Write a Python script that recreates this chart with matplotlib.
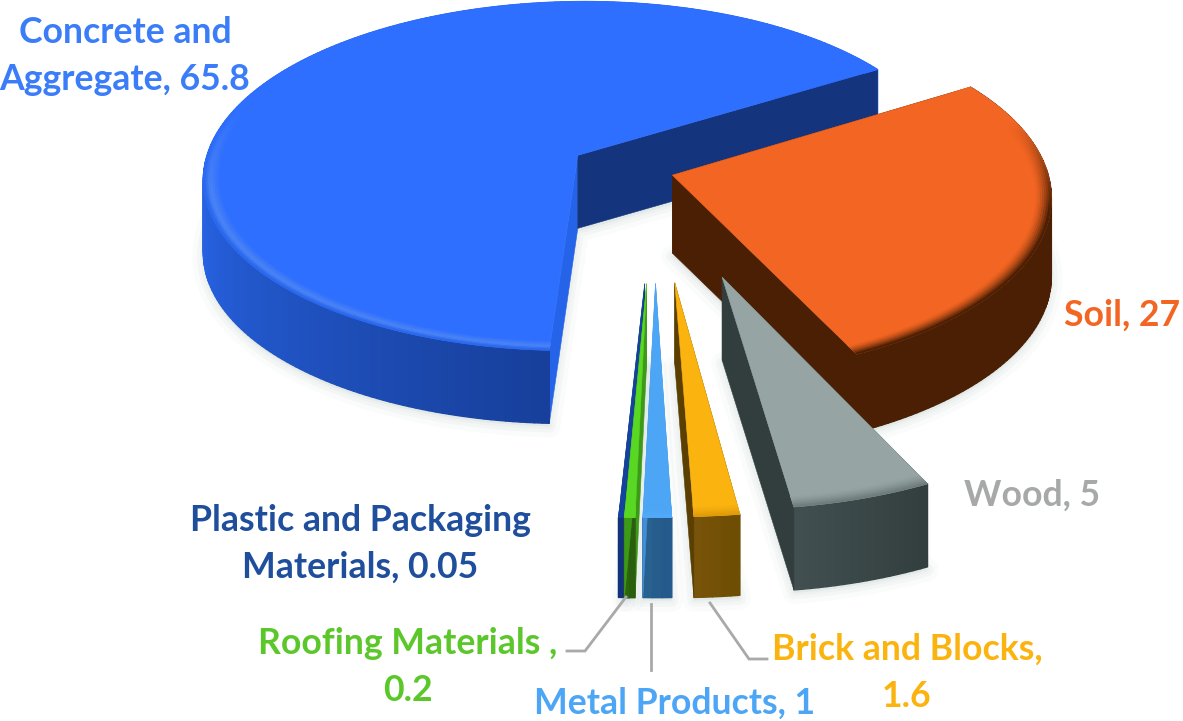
import numpy as np
import matplotlib
matplotlib.use("Agg")
import matplotlib.pyplot as plt
from matplotlib.patches import Polygon
from matplotlib.collections import PolyCollection
from matplotlib.colors import to_rgb

# data, counter-clockwise from the back right
names = ["Concrete and\nAggregate", "Plastic and Packaging\nMaterials", "Roofing Materials ",
         "Metal Products", "Brick and Blocks", "Wood", "Soil"]
values = [65.8, 0.05, 0.2, 1, 1.6, 5, 27]
value_text = ["65.8", "0.05", "0.2", "1", "1.6", "5", "27"]

# style per slice
explode = [0.205, 0.59, 0.59, 0.59, 0.59, 0.59, 0.075]
widen = [0, 0.6, 0.3, 0, 0, 0, 0]
top_col = ["#2f6fff", "#14439c", "#58d822", "#4da6f5", "#fbb40f", "#96a5a3", "#f26522"]
rim_col = ["#4c85f5", "#14439c", "#58d822", "#52aaf8", "#e09c0a", "#6f7d7c", "#4a1f04"]
side_a = ["#2a68ee", "#12337a", "#2e640e", "#28608f", "#77540a", "#424f50", "#4a1f04"]
side_b = ["#173f9a", "#12337a", "#2a5a0c", "#24588a", "#6c4c00", "#323d3e", "#4a1f04"]
cut_start = ["#14357d", "#12337a", "#3c9a18", "#3f8fd8", "#5a3f00", "#323d3e", "#4a1f04"]
cut_end = ["#2563e8", "#12337a", "#3c9a18", "#3f8fd8", "#5a3f00", "#323d3e", "#4a1f04"]
label_col = ["#3b7df8", "#1f4e9c", "#5cc72a", "#4da6f5", "#fbb40f", "#a7a9a9", "#f26522"]
depth = [73, 80, 80, 80, 81, 83, 78]
label_xy = [(125, 56), (360, 544), (408, 667), (675, 703), (907, 673), (1032, 495), (1122, 315)]
line_gap = 47
draw_order = [0, 6, 5, 4, 3, 1, 2]

leaders = [[(567, 651), (585, 651), (626, 597)],
           [(651, 604), (651, 670)],
           [(710, 603), (749, 659), (767, 659)]]

start_angle = 32
twist = 2.5
X0, Y0, RX, RY, K = 645, 172, 375, 176, 0.12


def project(u, v):
    s = 1 / (1 + K * v)
    return X0 + RX * u * s, Y0 - RY * v * s


def mix(a, b, t):
    a, b = np.array(to_rgb(a)), np.array(to_rgb(b))
    return tuple(a + (b - a) * t)


def poly(ax, pts, color, z):
    ax.add_patch(Polygon(pts, closed=True, facecolor=color, edgecolor=color, linewidth=0.4, zorder=z))


fig = plt.figure(figsize=(11.83, 7.21), dpi=100)
ax = fig.add_axes([0, 0, 1, 1])
ax.set_xlim(0, 1183)
ax.set_ylim(721, 0)
ax.axis("off")

sweep = np.array(values) / sum(values) * 360
ends = start_angle + np.cumsum(sweep)
starts = ends - sweep

# soft shadow first
for i in draw_order:
    a = np.radians(np.linspace(starts[i], ends[i], 80))
    mid = np.radians((starts[i] + ends[i]) / 2 + twist)
    cu, cv = explode[i] * np.cos(mid), explode[i] * np.sin(mid)
    x, y = project(cu + np.cos(a), cv + np.sin(a))
    ax_, ay_ = project(cu, cv)
    xs = np.r_[ax_, x]
    ys = np.r_[ay_, y] + depth[i]
    for lw, al in [(16, 0.10), (9, 0.15), (4, 0.2)]:
        ax.add_patch(Polygon(np.c_[xs, ys + 3], closed=True, facecolor="#d3dedc", edgecolor="#d3dedc",
                             linewidth=lw, alpha=al, joinstyle="round", zorder=1))

for n, i in enumerate(draw_order):
    z = 2 + n
    a0, a1 = starts[i] - widen[i], ends[i] + widen[i]
    mid = np.radians((starts[i] + ends[i]) / 2 + twist)
    cu, cv = explode[i] * np.cos(mid), explode[i] * np.sin(mid)
    h = depth[i]
    steps = max(int(a1 - a0), 2)
    ang = np.linspace(a0, a1, steps + 1)
    rad = np.radians(ang)
    ox, oy = project(cu + np.cos(rad), cv + np.sin(rad))
    px, py = project(cu, cv)

    poly(ax, [(px, py), (ox[-1], oy[-1]), (ox[-1], oy[-1] + h), (px, py + h)], cut_end[i], z)

    # outer wall, colour runs along the part facing us
    lo = max(a0, 180)
    quads, cols = [], []
    for k in range(steps):
        t = np.clip((ang[k] - lo) / max(a1 - lo, 1), 0, 1)
        quads.append([(ox[k], oy[k]), (ox[k + 1], oy[k + 1]), (ox[k + 1], oy[k + 1] + h), (ox[k], oy[k] + h)])
        cols.append(mix(side_a[i], side_b[i], t))
    ax.add_collection(PolyCollection(quads, facecolors=cols, edgecolors=cols, linewidths=1.0, zorder=z))

    poly(ax, [(px, py), (ox[0], oy[0]), (ox[0], oy[0] + h), (px, py + h)], cut_start[i], z)

    # top face, then the bevel bands near the rim, only on the side facing us
    poly(ax, np.r_[[[px, py]], np.c_[ox, oy]], top_col[i], z)
    bands = np.linspace(0.955, 1.0, 9)
    quads, cols = [], []
    for b in range(len(bands) - 1):
        t = b / (len(bands) - 2)
        xa, ya = project(cu + bands[b] * np.cos(rad), cv + bands[b] * np.sin(rad))
        xb, yb = project(cu + bands[b + 1] * np.cos(rad), cv + bands[b + 1] * np.sin(rad))
        if i == 0:
            c = mix(top_col[i], rim_col[i], min(t * 1.6, 1)) if t < 0.65 else mix(rim_col[i], side_a[i], (t - 0.65) / 0.35)
        else:
            c = mix(top_col[i], rim_col[i], t ** 1.5)
        for k in range(steps):
            fade = np.clip((0.3 - np.sin(rad[k])) / 0.5, 0, 1)
            quads.append([(xa[k], ya[k]), (xa[k + 1], ya[k + 1]), (xb[k + 1], yb[k + 1]), (xb[k], yb[k])])
            cols.append(mix(top_col[i], c, fade))
    ax.add_collection(PolyCollection(quads, facecolors=cols, edgecolors=cols, linewidths=0.5, zorder=z))

for line in leaders:
    xs, ys = zip(*line)
    ax.plot(xs, ys, color="#a9a9a9", lw=2.0, solid_joinstyle="miter", zorder=20)

for i in range(len(names)):
    label = f"{names[i]}, {value_text[i]}" if names[i] not in ("Roofing Materials ", "Brick and Blocks") \
        else f"{names[i]},\n{value_text[i]}"
    rows = label.split("\n")
    for r, row in enumerate(rows):
        ax.text(label_xy[i][0], label_xy[i][1] + (r - (len(rows) - 1) / 2) * line_gap, row, color=label_col[i],
                family="Lato", weight="bold", fontsize=25.7, ha="center", va="center", zorder=25)

fig.savefig("out.png", dpi=100)
